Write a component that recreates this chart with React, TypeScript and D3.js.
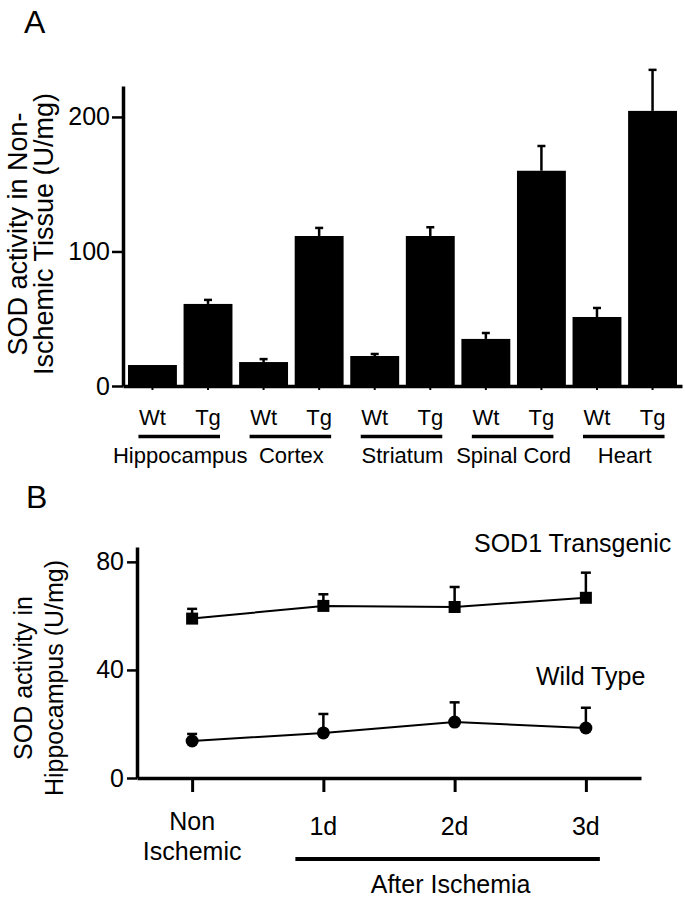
import React, { useRef, useEffect } from 'react';
import * as d3 from 'd3';

// panel A: SOD activity in non-ischemic tissue
const tissues = ['Hippocampus', 'Cortex', 'Striatum', 'Spinal Cord', 'Heart'];
const genotypes = ['Wt', 'Tg'];
const wtActivity = [15.6, 17.8, 22.3, 35, 51.3];
const wtSem = [0, 2.2, 1.5, 4.4, 6.7];
const tgActivity = [61, 111.5, 111.5, 160, 204.5];
const tgSem = [3, 6, 6.5, 18.4, 30.5];
const topTicks = [0, 100, 200];

// panel B: hippocampus after ischemia
const timepoints = ['Non Ischemic', '1d', '2d', '3d'];
const transgenicMean = [59, 63.7, 63.3, 66.7];
const transgenicSem = [3.6, 4.3, 7.4, 9.3];
const wildMean = [13.7, 16.7, 20.7, 18.5];
const wildSem = [2.6, 7, 7.3, 7.5];
const bottomTicks = [0, 40, 80];

const FONT = '"Liberation Sans", Arial, Helvetica, sans-serif';

function App() {
    const width = 685;
    const height = 899;
    const svgRef = useRef<SVGSVGElement>(null);

    useEffect(() => {
        drawSvg();
    });

    const drawSvg = () => {
        const svg = d3.select(svgRef.current);
        svg.selectAll('*').remove();
        svg.attr('font-family', FONT);

        // ---------- A ----------
        const bars: { key: string; tissue: string; g: string; v: number; e: number }[] = [];
        tissues.forEach((t, i) => {
            bars.push({ key: t + '-Wt', tissue: t, g: genotypes[0], v: wtActivity[i], e: wtSem[i] });
            bars.push({ key: t + '-Tg', tissue: t, g: genotypes[1], v: tgActivity[i], e: tgSem[i] });
        });

        const xBand = d3.scaleBand()
            .domain(bars.map(d => d.key))
            .range([123, 682])
            .paddingInner(0.12)
            .paddingOuter(0.09);
        const yTop = d3.scaleLinear().domain([0, 223]).range([386, 86]);
        const cx = (k: string) => (xBand(k) as number) + xBand.bandwidth() / 2;

        const a = svg.append('g');

        a.append('text').attr('x', 24).attr('y', 33)
            .attr('font-size', 32).text('A');

        a.selectAll('rect.bar').data(bars).enter().append('rect')
            .attr('class', 'bar')
            .attr('x', d => xBand(d.key) as number)
            .attr('y', d => yTop(d.v))
            .attr('width', xBand.bandwidth())
            .attr('height', d => yTop(0) - yTop(d.v))
            .attr('fill', 'black');

        const errA = a.selectAll('g.err').data(bars.filter(d => d.e > 0)).enter().append('g')
            .attr('stroke', 'black').attr('stroke-width', 2.5);
        errA.append('line')
            .attr('x1', d => cx(d.key)).attr('x2', d => cx(d.key))
            .attr('y1', d => yTop(d.v)).attr('y2', d => yTop(d.v + d.e));
        errA.append('line')
            .attr('x1', d => cx(d.key) - 4).attr('x2', d => cx(d.key) + 4)
            .attr('y1', d => yTop(d.v + d.e)).attr('y2', d => yTop(d.v + d.e));

        const yAxisA = a.append('g').attr('transform', 'translate(123,0)')
            .call(d3.axisLeft(yTop).tickValues(topTicks).tickSize(11).tickSizeOuter(0).tickPadding(2));
        yAxisA.attr('font-size', 25).attr('font-family', FONT);
        yAxisA.select('.domain').attr('stroke-width', 3.5);
        yAxisA.selectAll('.tick line').attr('stroke-width', 2.5);

        const xAxisA = a.append('g').attr('transform', 'translate(0,386)')
            .call(d3.axisBottom(xBand).tickSize(4).tickSizeOuter(0).tickPadding(19)
                .tickFormat(k => k.split('-')[1]));
        xAxisA.attr('font-size', 22).attr('font-family', FONT);
        xAxisA.select('.domain').attr('stroke-width', 3.5);
        xAxisA.selectAll('.tick line').attr('stroke-width', 2);

        a.selectAll('line.group').data(tissues).enter().append('line')
            .attr('x1', t => cx(t + '-Wt') - 14)
            .attr('x2', t => cx(t + '-Tg') + 12)
            .attr('y1', 436.5).attr('y2', 436.5)
            .attr('stroke', 'black').attr('stroke-width', 3.5);
        a.selectAll('text.group').data(tissues).enter().append('text')
            .attr('x', t => (cx(t + '-Wt') + cx(t + '-Tg')) / 2)
            .attr('y', 463)
            .attr('text-anchor', 'middle')
            .attr('font-size', 22)
            .text(t => t);

        const yLabA = ['SOD activity in Non-', 'Ischemic Tissue (U/mg)'];
        a.selectAll('text.ylab').data(yLabA).enter().append('text')
            .attr('transform', (d, i) => `translate(${27 + i * 26},234) rotate(-90)`)
            .attr('text-anchor', 'middle')
            .attr('font-size', 27)
            .text(d => d);

        // ---------- B ----------
        const xPt = d3.scalePoint().domain(timepoints).range([137, 641]).padding(0.42);
        const yBot = d3.scaleLinear().domain([0, 85.5]).range([778, 547]);

        const b = svg.append('g');
        b.append('text').attr('x', 26).attr('y', 508)
            .attr('font-size', 32).text('B');

        const yAxisB = b.append('g').attr('transform', 'translate(137,0)')
            .call(d3.axisLeft(yBot).tickValues(bottomTicks).tickSize(10).tickSizeOuter(0).tickPadding(3));
        yAxisB.attr('font-size', 25).attr('font-family', FONT);
        yAxisB.select('.domain').attr('stroke-width', 3.5);
        yAxisB.selectAll('.tick line').attr('stroke-width', 2.5);

        const xAxisB = b.append('g').attr('transform', 'translate(0,778)')
            .call(d3.axisBottom(xPt).tickSize(14).tickSizeOuter(0).tickFormat(() => ''));
        xAxisB.select('.domain').attr('stroke-width', 3.5);
        xAxisB.selectAll('.tick line').attr('stroke-width', 3);

        timepoints.forEach(tp => {
            const lines = tp.split(' ');
            const txt = b.append('text')
                .attr('text-anchor', 'middle')
                .attr('font-size', 25);
            lines.forEach((ln, j) => {
                txt.append('tspan')
                    .attr('x', xPt(tp) as number)
                    .attr('y', (lines.length > 1 ? 830 : 835) + j * 30)
                    .text(ln);
            });
        });

        b.append('line')
            .attr('x1', (xPt('1d') as number) - 28)
            .attr('x2', (xPt('3d') as number) + 14)
            .attr('y1', 859).attr('y2', 859)
            .attr('stroke', 'black').attr('stroke-width', 4);
        b.append('text')
            .attr('x', ((xPt('1d') as number) - 28 + (xPt('3d') as number) + 14) / 2 + 3)
            .attr('y', 893)
            .attr('text-anchor', 'middle')
            .attr('font-size', 25)
            .text('After Ischemia');

        const series = [
            { name: 'SOD1 Transgenic', mean: transgenicMean, sem: transgenicSem, shape: 'square', lx: 474, ly: 552 },
            { name: 'Wild Type', mean: wildMean, sem: wildSem, shape: 'circle', lx: 536, ly: 685 },
        ];

        const line = d3.line<number>()
            .x((d, i) => xPt(timepoints[i]) as number)
            .y(d => yBot(d));

        series.forEach(s => {
            const g = b.append('g');
            g.append('path').attr('d', line(s.mean))
                .attr('fill', 'none').attr('stroke', 'black').attr('stroke-width', 2);

            s.mean.forEach((m, i) => {
                const x = xPt(timepoints[i]) as number;
                const top = yBot(m + s.sem[i]);
                g.append('line').attr('x1', x).attr('x2', x)
                    .attr('y1', yBot(m)).attr('y2', top)
                    .attr('stroke', 'black').attr('stroke-width', 2.5);
                g.append('line').attr('x1', x - 5).attr('x2', x + 5)
                    .attr('y1', top).attr('y2', top)
                    .attr('stroke', 'black').attr('stroke-width', 2.5);
            });

            if (s.shape === 'square') {
                g.selectAll('rect').data(s.mean).enter().append('rect')
                    .attr('x', (d, i) => (xPt(timepoints[i]) as number) - 6)
                    .attr('y', d => yBot(d) - 6)
                    .attr('width', 12).attr('height', 12)
                    .attr('fill', 'black');
            } else {
                g.selectAll('circle').data(s.mean).enter().append('circle')
                    .attr('cx', (d, i) => xPt(timepoints[i]) as number)
                    .attr('cy', d => yBot(d))
                    .attr('r', 6.5)
                    .attr('fill', 'black');
            }

            g.append('text').attr('x', s.lx).attr('y', s.ly)
                .attr('font-size', 25).text(s.name);
        });

        const yLabB = ['SOD activity in', 'Hippocampus (U/mg)'];
        b.selectAll('text.ylab').data(yLabB).enter().append('text')
            .attr('transform', (d, i) => `translate(${32 + i * 31},678) rotate(-90)`)
            .attr('text-anchor', 'middle')
            .attr('font-size', 25)
            .text(d => d);
    };

    return (
        <svg ref={svgRef} width={width} height={height}
            style={{ position: 'absolute', left: 0, top: 0, background: 'white' }} />
    );
}

export default App;
